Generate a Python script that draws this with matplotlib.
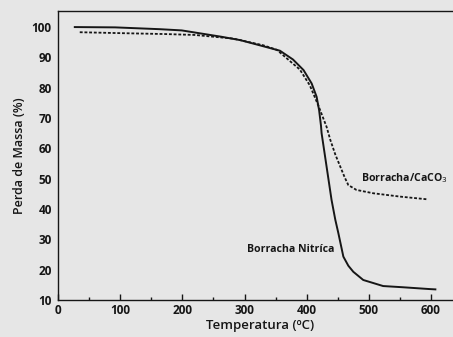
import matplotlib
matplotlib.use("Agg")
import matplotlib.pyplot as plt
from matplotlib.ticker import MultipleLocator

nitrica_T = [27, 92, 164, 199, 263, 293, 317, 357, 378, 395, 408, 416, 420, 423, 424, 432, 440, 446, 451, 459, 467, 475, 491, 523, 555, 598, 607]
nitrica_m = [100.0, 99.9, 99.3, 98.9, 96.8, 95.7, 94.4, 92.2, 89.3, 85.8, 81.4, 77.0, 72.6, 67.5, 65.0, 54.0, 43.0, 36.5, 32.0, 24.3, 21.3, 19.3, 16.6, 14.6, 14.2, 13.6, 13.5]

caco_T = [35, 100, 172, 220, 282, 330, 352, 373, 389, 405, 419, 432, 438, 446, 454, 461, 467, 480, 507, 550, 594]
caco_m = [98.3, 98.0, 97.7, 97.4, 96.2, 94.0, 92.5, 88.8, 86.0, 80.8, 74.0, 67.1, 62.8, 58.0, 54.0, 50.5, 47.9, 46.3, 45.2, 44.1, 43.2]

xticks = [0, 100, 200, 300, 400, 500, 600]
yticks = [10, 20, 30, 40, 50, 60, 70, 80, 90, 100]

bg = "#e6e6e6"
ink = "#161616"
plt.rcParams['font.family'] = ['Open Sans', 'DejaVu Sans']

fig = plt.figure(figsize=(4.53, 3.37), dpi=100, facecolor=bg)
W, H = 453, 337
x0, x1 = 58, 58 + 650 * 0.6217
ytop, ybot = 11, 300
ax = fig.add_axes([x0 / W, 1 - ybot / H, (x1 - x0) / W, (ybot - ytop) / H])
ax.set_facecolor(bg)

ax.plot(nitrica_T, nitrica_m, color=ink, lw=1.4, solid_joinstyle="round")
ax.plot(caco_T, caco_m, color=ink, lw=1.3, ls=(0, (1.6, 1.0)))

ax.set_xlim(0, 650)
ax.set_ylim(10, 105.3)
ax.set_xticks(xticks)
ax.set_yticks(yticks)
ax.xaxis.set_minor_locator(MultipleLocator(50))
ax.tick_params(axis='x', which='major', direction='in', length=4, width=1, labelsize=8.5, pad=3, colors=ink)
ax.tick_params(axis='x', which='minor', direction='in', length=2.5, width=1, colors=ink)
ax.tick_params(axis='y', which='major', length=0, labelsize=8.5, pad=4.5, colors=ink)
for lab in ax.get_xticklabels() + ax.get_yticklabels():
    lab.set_fontweight('bold')
for s in ax.spines.values():
    s.set_color(ink)
    s.set_linewidth(1.0)

ax.set_xlabel("Temperatura (ºC)", fontsize=9.5, fontweight='semibold', labelpad=1, color=ink)
ax.set_ylabel("Perda de Massa (%)", fontsize=9, fontweight='semibold', labelpad=4, color=ink)

ax.text(487, 50.3, "Borracha/CaCO$_3$", fontsize=7.6, fontweight='bold', ha='left', va='center', color=ink)
ax.text(444, 26.5, "Borracha Nitríca", fontsize=7.6, fontweight='bold', ha='right', va='center', color=ink)

fig.savefig("out.png", dpi=100, facecolor=bg)
